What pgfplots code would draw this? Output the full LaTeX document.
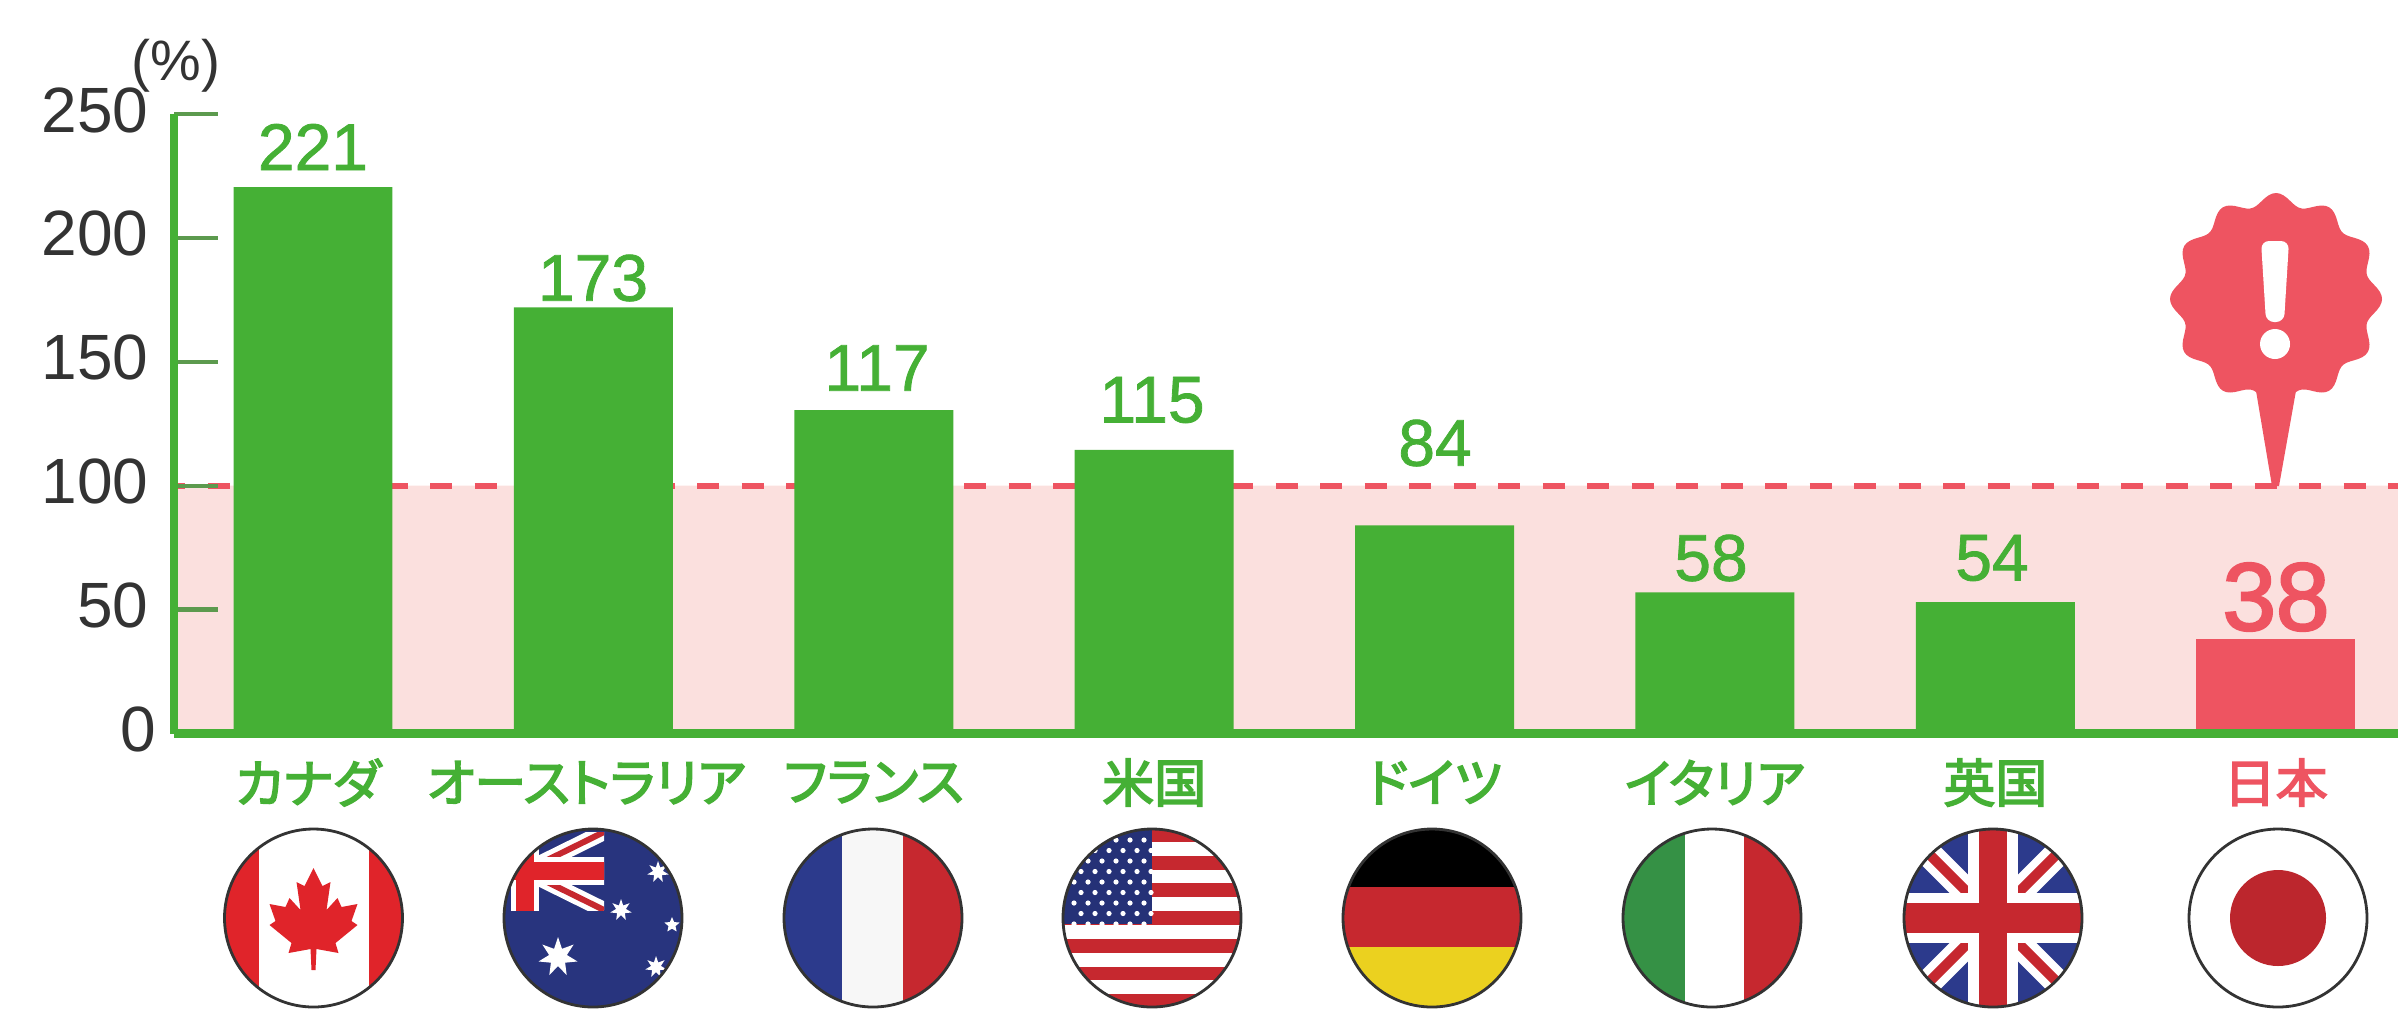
\documentclass[border=0pt]{standalone}
\usepackage{pgfplots}
\pgfplotsset{compat=1.18}
\usepackage{fontspec}
\setmainfont{Liberation Sans}
\newfontfamily\cjk[FakeBold=3,RawFeature={+palt}]{Noto Sans CJK JP}
\newfontfamily\numf[FakeBold=1.2]{Liberation Sans}
\newfontfamily\numb[FakeBold=2.5]{Liberation Sans}
\usetikzlibrary{shapes.geometric}
\definecolor{grn}{HTML}{45B035}
\definecolor{rd}{HTML}{EE5461}
\definecolor{band}{HTML}{FBE0DE}
\definecolor{flagred}{HTML}{C6282F}
\definecolor{cared}{HTML}{E0242A}
\definecolor{flagblue}{HTML}{2C3A8C}
\definecolor{itgreen}{HTML}{359145}
\definecolor{deyellow}{HTML}{EBD11F}
\definecolor{txt}{HTML}{333333}
\definecolor{tickc}{HTML}{5C9A4E}
\pgfplotstableread{
x y
0 220.5
1 172
2 130.5
3 114.5
4 84
5 57
6 53
}\greenbars
\pgfplotstableread{
x y
7 38
}\redbars
\newcommand{\flagdisc}[2]{%
  \begin{scope}[shift={(#1,918)}]
    \begin{scope}
      \clip (0,0) circle (89);
      #2
    \end{scope}
    \draw[line width=1.4pt,txt] (0,0) circle (89);
  \end{scope}}
\newcommand{\flagstar}[4]{\node[star,star points=#4,star point ratio=2.2,fill=white,draw=none,inner sep=0pt,minimum size=#3*1pt] at (#1,#2) {};}
\begin{document}
\begin{tikzpicture}
\clip (0,0) rectangle (1199pt,-504.5pt);
\begin{axis}[
  at={(87pt,-366.75pt)}, anchor=south west,
  scale only axis,
  width=1112pt, height=309.75pt,
  xmin=-0.4957, xmax=7.436, ymin=0, ymax=250,
  axis x line=bottom, axis y line=left,
  axis line style={grn, line width=4.2pt, -},
  axis on top,
  clip=false,
  ytick={0,50,100,150,200,250},
  yticklabels={\raisebox{-2pt}{0}\kern-3.5pt,50,100,150,200,250},
  xtick={0,1,2,3,4,5,6,7},
  xticklabels={カナダ\kern5pt,オーストラリア\kern7pt,フランス,米国,ドイツ,イタリア,英国,\textcolor{rd}{日本}},
  major tick length=22pt,
  xtick style={draw=none},
  ytick style={tickc, line width=2.2pt},
  tick align=inside,
  /pgf/number format/assume math mode=true,
  yticklabel style={font=\fontsize{32}{32}\selectfont, text=txt, anchor=east, xshift=-12.5pt, yshift=2pt, inner sep=0pt},
  xticklabel style={font=\cjk\fontsize{26}{26}\selectfont, text=grn, anchor=center, yshift=-24.5pt, inner sep=0pt},
]
\addplot[draw=none, fill=band, forget plot] coordinates {(-0.4957,0) (-0.4957,100) (7.436,100) (7.436,0)} \closedcycle;
\addplot[rd, line width=3.2pt, dash pattern=on 11pt off 11.25pt, dash phase=5.45pt, forget plot] coordinates {(-0.4957,100) (7.436,100)};
\addplot[ybar, bar width=0.567, fill=grn, draw=none] table[x=x,y=y] {\greenbars};
\addplot[ybar, bar width=0.567, fill=rd, draw=none] table[x=x,y=y] {\redbars};
\end{axis}
\begin{scope}[x=0.5pt,y=-0.5pt]
% value labels
\begin{scope}[every node/.style={inner sep=0pt, anchor=center, font=\numf\fontsize{33}{33}\selectfont, text=grn}]
\node at (313,147) {221};
\node at (593,278) {173};
\node at (877,368) {117};
\node at (1152,400) {115};
\node at (1435,443) {84};
\node at (1711,558) {58};
\node at (1992,558) {54};
\node[font=\numb\fontsize{48}{48}\selectfont, text=rd] at (2276,597) {38};
\node[font=\fontsize{28.5}{28.5}\selectfont, text=txt] at (176,66) {(\%)};
\end{scope}
% alert badge
\fill[rd] plot[domain=0:360, samples=181, smooth cycle] ({2276+(100+6*cos(12*\x))*cos(\x)}, {299+(100+6*cos(12*\x))*sin(\x)});
\fill[rd] (2255,385) -- (2297,385) -- (2279,486) -- (2272,486) -- cycle;
\fill[white, rounded corners=4] (2261,241) -- (2289,241) -- (2284,322) -- (2266,322) -- cycle;
\fill[white] (2275,344) circle (15);
% flags
\flagdisc{313.5}{
  \fill[white] (-90,-90) rectangle (90,90);
  \fill[cared] (-90,-90) rectangle (-55,90);
  \fill[cared] (55,-90) rectangle (90,90);
  \fill[cared] (0,-50) -- (9,-32) -- (17,-36) -- (13,-8) -- (24,-20) -- (28,-11) -- (44,-14) -- (38,3) -- (44,7) -- (22,25) -- (25,35) -- (3,31) -- (2,52) -- (-2,52) -- (-3,31) -- (-25,35) -- (-22,25) -- (-44,7) -- (-38,3) -- (-44,-14) -- (-28,-11) -- (-24,-20) -- (-13,-8) -- (-17,-36) -- (-9,-32) -- cycle;
}
\flagdisc{593}{
  \fill[flagblue!90!black] (-90,-90) rectangle (90,90);
  \begin{scope}
    \clip (-147,-86) rectangle (11,-8);
    \draw[white,line width=8pt] (-147,-86) -- (11,-8);
    \draw[white,line width=8pt] (-147,-8) -- (11,-86);
    \draw[flagred,line width=3pt] (-147,-86) -- (11,-8);
    \draw[flagred,line width=3pt] (-147,-8) -- (11,-86);
    \draw[white,line width=14pt] (-68,-90) -- (-68,-5);
    \draw[white,line width=14pt] (-150,-47) -- (15,-47);
    \draw[cared,line width=9pt] (-68,-90) -- (-68,-5);
    \draw[cared,line width=9pt] (-150,-47) -- (15,-47);
  \end{scope}
  \flagstar{-35}{39}{20}{7}
  \flagstar{65}{-46}{11}{7}
  \flagstar{28}{-8}{11}{7}
  \flagstar{79}{7}{8}{5}
  \flagstar{63}{49}{11}{7}
}
\flagdisc{873}{
  \fill[white!97!black] (-90,-90) rectangle (90,90);
  \fill[flagblue] (-90,-90) rectangle (-31,90);
  \fill[flagred] (30,-90) rectangle (90,90);
}
\flagdisc{1152}{
  \fill[white] (-90,-90) rectangle (90,90);
  \foreach \i in {0,2,4,6,8,10,12} {\fill[flagred] (-90,{-90+\i*13.85}) rectangle (90,{-90+(\i+1)*13.85});}
  \fill[flagblue!85!black] (-90,-90) rectangle (0,6);
  \foreach \r in {0,...,8} {\foreach \c in {0,...,5} {
    \fill[white] ({-78+\c*14+mod(\r,2)*7},{-78+\r*10.5}) circle (2.6);
  }}
}
\flagdisc{1432}{
  \fill[black] (-90,-90) rectangle (90,-31);
  \fill[flagred] (-90,-31) rectangle (90,29);
  \fill[deyellow] (-90,29) rectangle (90,90);
}
\flagdisc{1712}{
  \fill[white] (-90,-90) rectangle (90,90);
  \fill[itgreen] (-90,-90) rectangle (-27,90);
  \fill[flagred] (32,-90) rectangle (90,90);
}
\flagdisc{1993}{
  \fill[flagblue] (-90,-90) rectangle (90,90);
  \draw[white,line width=13pt] (-90,-90) -- (90,90);
  \draw[white,line width=13pt] (-90,90) -- (90,-90);
  \draw[flagred,line width=5pt] (-90,-90) -- (90,90);
  \draw[flagred,line width=5pt] (-90,90) -- (90,-90);
  \draw[white,line width=25pt] (0,-90) -- (0,90);
  \draw[white,line width=25pt] (-90,0) -- (90,0);
  \draw[flagred,line width=14pt] (0,-90) -- (0,90);
  \draw[flagred,line width=15pt] (-90,0) -- (90,0);
}
\flagdisc{2278}{
  \fill[white] (-90,-90) rectangle (90,90);
  \fill[flagred!95!black] (0,0) circle (48);
}
\end{scope}
\end{tikzpicture}
\end{document}
